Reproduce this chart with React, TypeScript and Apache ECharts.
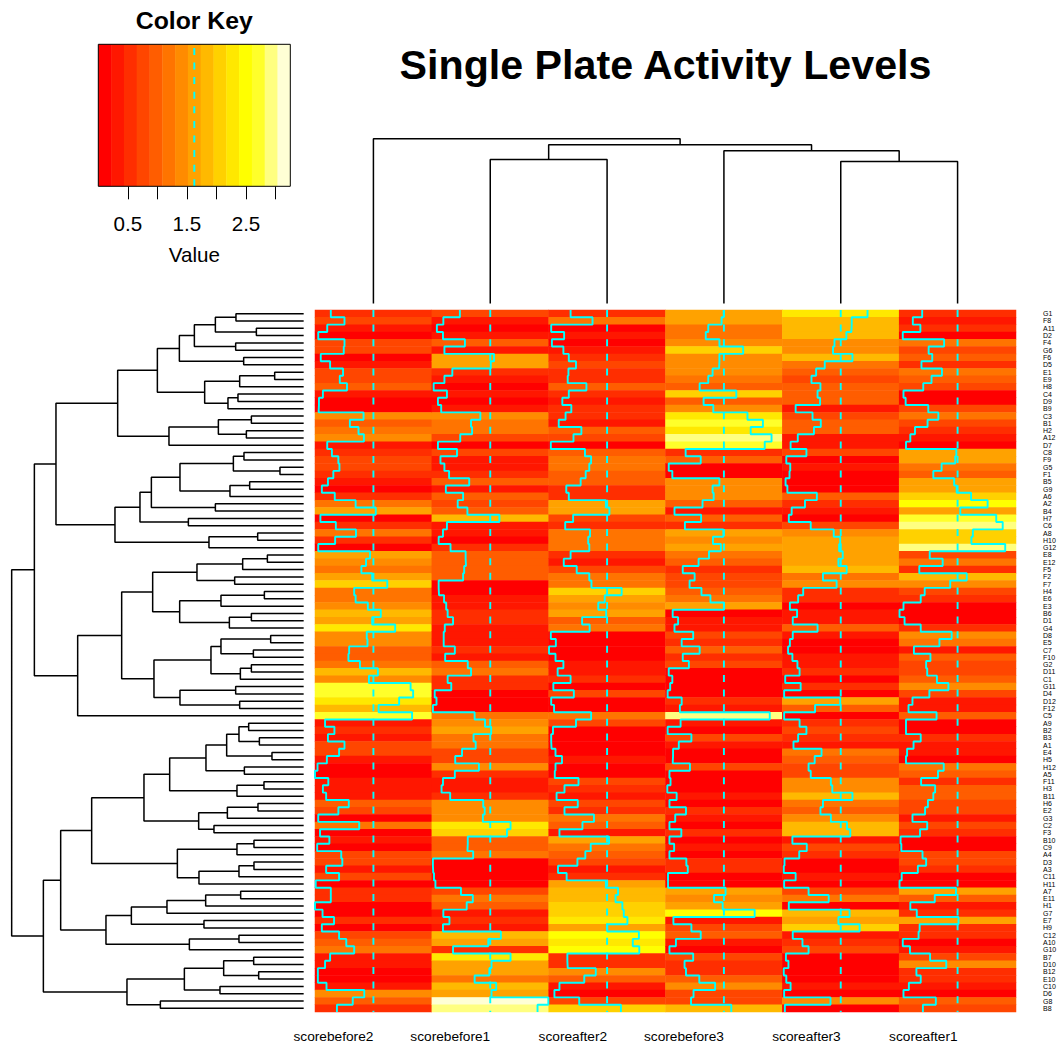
import React, { useEffect, useRef } from "react";
import * as echarts from "echarts";

const columnLabels = ["scorebefore2", "scorebefore1", "scoreafter2", "scorebefore3", "scoreafter3", "scoreafter1"];
const rowLabels = [
  "G1","F8","A11","D2","F4","G6","F6","D5","E1","E9","H8","C4","D9","B9","C3","B1","H2","A12","D7","C8",
  "F9","G5","F1","B5","G9","A6","A2","B4","H7","C6","A8","H10","G12","E8","E12","F5","F2","F7","H4","E6",
  "E3","B6","D1","G4","D8","E5","C7","F10","G2","D11","C1","G11","D4","D12","F12","C5","A9","B2","B3","A1",
  "E4","H5","H12","A5","F11","H3","B11","H6","E2","G3","C2","F3","B10","C9","A4","D3","A3","C11","H11","A7",
  "E11","H1","G7","E7","H9","C12","A10","G10","B7","D10","B12","E10","C10","D6","G8","B8",
];

const scorebefore2 = [
  .44,.82,.34,.09,.82,.80,.16,.42,.78,.69,.89,.22,.11,.10,1.35,.97,1.21,1.36,.34,.47,
  .65,.68,.51,.36,.19,.55,1.13,1.69,.15,.58,1.14,.56,.09,1.53,1.42,1.29,1.59,2.01,1.09,1.13,
  1.47,1.83,1.59,2.23,1.44,1.46,.95,.93,1.25,1.75,1.50,2.66,2.73,2.34,1.77,2.70,.28,.54,.36,.82,
  .67,.33,.07,0,.37,.22,.31,.94,.65,.09,1.23,.14,.40,.06,.73,.76,.31,.67,.02,.44,
  .44,0,.21,.53,.19,.67,.87,1.09,.42,.28,.08,.08,.32,1.37,1.05,.61,
];
const scorebefore1 = [
  .78,.32,.14,.31,.92,.35,1.73,1.64,.57,.35,.05,.42,.17,.26,1.35,1.09,1.12,.79,.17,.70,
  .24,.35,.48,1.04,.39,.87,.72,.99,1.88,.42,.31,.19,.52,.94,.95,.90,.87,.19,.20,.34,
  .40,.44,.59,.36,.33,.33,.64,.37,1.0,1.09,.44,.54,.08,.13,.03,1.19,1.48,1.65,1.16,1.22,
  .84,.65,1.31,.64,.31,.27,.51,1.43,1.47,1.42,2.19,2.09,1.0,.99,1.15,.03,.04,.06,.10,.81,
  1.14,.97,.32,.49,.31,1.92,1.57,.59,2.19,1.66,1.60,1.19,1.79,1.66,3.24,2.94,
];
const scoreafter2 = [
  .61,1.22,.07,.43,.09,.41,.56,.76,.55,.53,1.05,.56,.38,.63,.47,.28,.91,.69,.06,1.01,
  1.18,1.13,1.03,.89,.49,.56,1.59,1.69,.68,.46,1.15,1.10,1.13,.61,.42,.78,1.13,1.19,2.03,1.56,
  1.38,1.60,.93,1.14,.06,.20,.01,.19,.41,.25,.61,.13,.70,.07,.15,1.18,.76,.12,.07,.08,
  .19,.37,.19,.17,.83,.44,.22,.81,.44,1.26,.94,.30,1.68,1.17,1.02,.80,.26,.50,1.59,1.93,
  1.86,2.05,2.09,2.19,1.63,2.51,2.34,2.52,.52,.53,1.31,.99,.30,.16,.85,2.01,
];
const scorebefore3 = [
  1.62,1.56,1.19,1.12,1.50,2.16,1.50,1.49,1.31,1.19,.95,1.97,1.06,1.33,2.28,2.71,2.37,2.95,2.76,.56,
  .98,.09,.19,1.50,1.31,1.34,1.03,.25,.99,.54,1.61,1.32,1.54,1.21,.92,.48,.81,.67,1.0,1.25,
  1.63,.20,.35,.25,.77,.45,.95,.48,.65,.09,.19,.13,.06,.45,.40,2.90,.42,.06,.72,.37,
  .21,.20,.68,.11,.14,.05,.31,.11,.57,.27,.11,.44,.11,.24,.11,.58,.62,.07,.07,1.67,
  1.35,1.59,2.48,.22,.72,.98,.29,.11,.77,.53,.57,.94,1.38,.78,.71,1.83,
];
const scoreafter3 = [
  2.37,1.93,1.92,1.78,1.45,1.41,1.95,1.18,.94,.81,1.06,.98,1.05,.37,.84,1.07,.88,.43,.23,.67,
  .11,.22,.20,.09,.14,.96,.63,.26,.18,.79,1.43,1.61,1.58,1.68,1.56,1.79,1.13,1.51,.58,.44,
  .21,.41,.29,.98,.29,.21,.16,.28,.42,.48,.08,.51,.05,1.61,.91,.05,.48,.67,.44,.31,
  1.09,.90,.73,.79,1.35,1.39,1.95,1.13,1.06,1.35,1.80,1.89,.28,.68,.47,.06,.04,.37,.05,.73,
  1.29,.18,1.87,1.56,2.15,.29,.56,.73,.10,.17,.04,.11,.23,.05,1.34,.07,
];
const scoreafter1 = [
  .64,.38,.59,.10,1.25,.82,.92,.62,1.19,.90,.67,.12,.18,.81,1.09,.79,.44,.31,.19,1.59,
  1.56,1.18,.95,1.53,1.60,2.0,2.46,1.70,2.70,2.88,2.05,2.01,2.95,.85,1.21,.56,1.88,1.42,.71,.60,
  .12,.01,.15,.60,1.46,1.12,.41,.87,.75,.78,1.05,1.37,.84,.37,.26,1.04,.19,.19,.60,.40,
  .22,.19,1.24,1.08,.61,1.0,.95,.80,.72,.37,.78,.58,.04,.06,.65,.75,.52,.07,.01,1.58,
  .99,.31,.49,1.65,.57,.54,.10,.30,.86,1.31,.48,.60,.27,.12,1.02,.66,
];
const columns = [scorebefore2, scorebefore1, scoreafter2, scorebefore3, scoreafter3, scoreafter1];

const heatColors = [
  "#FF0000","#FF1700","#FF2E00","#FF4600","#FF5D00","#FF7400","#FF8B00","#FFA200",
  "#FFB900","#FFD100","#FFE800","#FFFF00","#FFFF2A","#FFFF80","#FFFFD5",
];
const keyMin = 0;
const keyMax = 3.25;
const keyMid = 1.625;
const keyTicks = [0.5, 1, 1.5, 2, 2.5, 3];
const keyTickLabels = [0.5, 1.5, 2.5];

// Dendrograms: [merge height, left branch, right branch]; a number is a leaf.
const rowTreeTop = [269.3,
  [247.7,
    [186,
      [146.3,
        [124.3,
          [109.3, [88.3, [67.7, 0, 1], [47.3, 2, 3]], [68, 4, 5]],
          [60, 6, 7]],
        [99, [64, [29, 8, 9], 10], [75.7, [65.7, 11, 12], 13]]],
      [134.7, [85.3, [52.3, 14, 15], [57.3, 16, 17]], 18]],
    [188.7,
      [163.7,
        [152.3,
          [123.7,
            [70.3, [59.7, 19, 20], [23.7, 21, 22]],
            [73.7, [54, 23, 24], 25]],
          [88.3, 26, 27]],
        [115.3, 28, 29]],
      [94.7, [46, 30, 31], 32]]],
  [226,
    [182,
      [151,
        [106.7, [61, [36.3, 33, 34], 35], [69, 36, 37]],
        [124, [82.7, [39.3, 38, 39], 40], [74.3, [52.3, 41, 42], 43]]],
      [149.7,
        [92.7,
          [82.7, [33, 44, 45], [50.3, 46, 47]],
          [63.3, [52.3, 48, 49], 50]],
        [123.7, [68, 51, 52], [64, 53, 54]]]],
    55]];
const rowTreeBottom = [260.3,
  [243,
    [212,
      [159.7,
        [134,
          [97.7,
            [77, [64.7, [55, 56, 57], [44.3, 58, 59]], [31.7, 60, 61]],
            [59.3, 62, 63]],
          [66.7, [39.7, 64, 65], 66]],
        [105, [76.3, [45.7, 67, 68], 69], [89.7, 70, 71]]],
      [126.3,
        [66.7, [49.7, 72, 73], 74],
        [104.7, [64.7, [49.7, 75, 76], 77], 78]]],
    [197.7,
      [172.3,
        [136.7, [98, [63, 79, 80], 81], 82],
        [99.7, 83, 84]],
      [114.3, [64.7, 85, 86], 87]]],
  [176.7,
    [119.3,
      [80, [50, 88, 89], [45, 90, 91]],
      [83.7, 92, 93]],
    [143.3, 94, 95]]];
const rowTree = [292, rowTreeTop, rowTreeBottom];
const columnTree = [164.8, 0, [158.8, [144, 1, 2], [152.8, 3, [142, 4, 5]]]];

type Seg = (number | string)[];
function walk(node: any, swap: boolean, out: Seg[]): { h: number; p: number } {
  if (typeof node === "number") return { h: 0, p: node + 0.5 };
  const a = walk(node[1], swap, out);
  const b = walk(node[2], swap, out);
  const h = node[0];
  const pts = [[a.p, a.h], [a.p, h], [b.p, h], [b.p, b.h]];
  pts.forEach((q) => out.push(swap ? [q[1], q[0]] : [q[0], q[1]]));
  out.push(["-", "-"]);
  return { h, p: (a.p + b.p) / 2 };
}
function treeData(tree: any, swap: boolean) {
  const out: Seg[] = [];
  walk(tree, swap, out);
  return out;
}

const FONT = "'Liberation Sans', Arial, Helvetica, sans-serif";
const DASH = [7, 7.6];

function buildOption() {
  const cells: number[][] = [];
  columns.forEach((col, c) => col.forEach((v, r) => cells.push([c, r, v])));
  const step = (keyMax - keyMin) / heatColors.length;
  const pieces = heatColors.map((color, i) => ({
    gte: keyMin + i * step,
    lt: i === heatColors.length - 1 ? keyMax + 1 : keyMin + (i + 1) * step,
    color,
  }));
  const bands = heatColors.map((_, i) => [keyMin + i * step, keyMin + (i + 1) * step, i]);
  const lineBase = { type: "line", symbol: "none", showSymbol: false, clip: false, silent: true, animation: false, connectNulls: false };

  const traces = columns.map((col, c) => {
    const data: number[][] = [];
    col.forEach((v, r) => {
      const x = c + (v - keyMin) / (keyMax - keyMin);
      data.push([x, r], [x, r + 1]);
    });
    return { ...lineBase, xAxisIndex: 1, yAxisIndex: 1, data, z: 4, lineStyle: { color: "#00FFFF", width: 1.9 } };
  });
  const vlines = columns.map((_, c) => ({
    ...lineBase, xAxisIndex: 1, yAxisIndex: 1, z: 3,
    data: [[c + 0.5, 0], [c + 0.5, rowLabels.length]],
    lineStyle: { color: "#00FFFF", width: 1.9, type: DASH },
  }));
  const none = { outerBoundsMode: "none", containLabel: false };

  return {
    animation: false,
    backgroundColor: "#fff",
    textStyle: { fontFamily: FONT },
    title: [
      { text: "Single Plate Activity Levels", left: 660.5, top: 39, textAlign: "center",
        textStyle: { fontFamily: FONT, fontWeight: "bold", fontSize: 41.2, color: "#000" } },
      { text: "Color Key", left: 189.3, top: 3, textAlign: "center",
        textStyle: { fontFamily: FONT, fontWeight: "bold", fontSize: 24.8, color: "#000" } },
    ],
    grid: [
      { ...none, left: 315, top: 310, width: 701, height: 702 },
      { ...none, left: 11.67, top: 310, width: 292, height: 702 },
      { ...none, left: 315, top: 138.5, width: 701, height: 165 },
      { ...none, left: 98.3, top: 44.3, width: 192, height: 142 },
    ],
    visualMap: [{ type: "piecewise", show: false, seriesIndex: 0, dimension: 2, pieces }],
    xAxis: [
      { type: "category", gridIndex: 0, data: columnLabels, position: "bottom",
        axisLine: { show: false }, axisTick: { show: false }, splitLine: { show: false },
        axisLabel: { interval: 0, align: "right", fontSize: 13.7, margin: 17, color: "#000", fontFamily: FONT } },
      { type: "value", gridIndex: 0, min: 0, max: columns.length, show: false, position: "top", splitLine: { show: false } },
      { type: "value", gridIndex: 1, min: 0, max: 292, inverse: true, show: false, splitLine: { show: false } },
      { type: "value", gridIndex: 2, min: 0, max: columns.length, show: false, splitLine: { show: false } },
      { type: "value", gridIndex: 3, min: keyMin, max: keyMax, position: "bottom",
        splitLine: { show: false }, axisLine: { show: false },
        axisTick: { show: true, length: 13, customValues: keyTicks, lineStyle: { color: "#000", width: 1 } },
        axisLabel: { customValues: keyTickLabels, fontSize: 20.6, margin: 27, color: "#000", fontFamily: FONT },
        name: "Value", nameLocation: "middle", nameGap: 58,
        nameTextStyle: { fontSize: 20.6, color: "#000", fontFamily: FONT } },
    ],
    yAxis: [
      { type: "category", gridIndex: 0, data: rowLabels, inverse: true, position: "right",
        axisLine: { show: false }, axisTick: { show: false }, splitLine: { show: false },
        axisLabel: { interval: 0, fontSize: 7, margin: 27, color: "#000", fontFamily: FONT } },
      { type: "value", gridIndex: 0, min: 0, max: rowLabels.length, inverse: true, show: false, position: "left", splitLine: { show: false } },
      { type: "value", gridIndex: 1, min: 0, max: rowLabels.length, inverse: true, show: false, splitLine: { show: false } },
      { type: "value", gridIndex: 2, min: 0, max: 165, show: false, splitLine: { show: false } },
      { type: "value", gridIndex: 3, min: 0, max: 1, show: false, splitLine: { show: false } },
    ],
    series: [
      { type: "heatmap", xAxisIndex: 0, yAxisIndex: 0, data: cells, silent: true, z: 2, progressive: 0 },
      ...vlines,
      ...traces,
      { ...lineBase, xAxisIndex: 2, yAxisIndex: 2, data: treeData(rowTree, true), lineStyle: { color: "#000", width: 1.5 } },
      { ...lineBase, xAxisIndex: 3, yAxisIndex: 3, data: treeData(columnTree, false), lineStyle: { color: "#000", width: 1.5 } },
      { type: "custom", xAxisIndex: 4, yAxisIndex: 4, data: bands, silent: true, z: 2, encode: { x: [0, 1] },
        renderItem: (_: any, api: any) => {
          const a = api.coord([api.value(0), 1]);
          const b = api.coord([api.value(1), 0]);
          return { type: "rect", shape: { x: a[0], y: a[1], width: b[0] - a[0] + 0.4, height: b[1] - a[1] },
            style: { fill: heatColors[api.value(2)] } };
        } },
      { ...lineBase, xAxisIndex: 4, yAxisIndex: 4, z: 3,
        data: [[keyMid, 0], [keyMid, 1]], lineStyle: { color: "#00FFFF", width: 1.9, type: DASH } },
      { ...lineBase, xAxisIndex: 4, yAxisIndex: 4, z: 4,
        data: [[keyMin, 0], [keyMax, 0], [keyMax, 1], [keyMin, 1], [keyMin, 0]], lineStyle: { color: "#000", width: 1 } },
    ],
  };
}

export default function App() {
  const ref = useRef<HTMLDivElement>(null);
  useEffect(() => {
    const chart = echarts.init(ref.current!, undefined, { renderer: "svg" });
    chart.setOption(buildOption() as any);
    return () => chart.dispose();
  }, []);
  return <div ref={ref} style={{ position: "absolute", left: 0, top: 0, width: 1057, height: 1057 }} />;
}
